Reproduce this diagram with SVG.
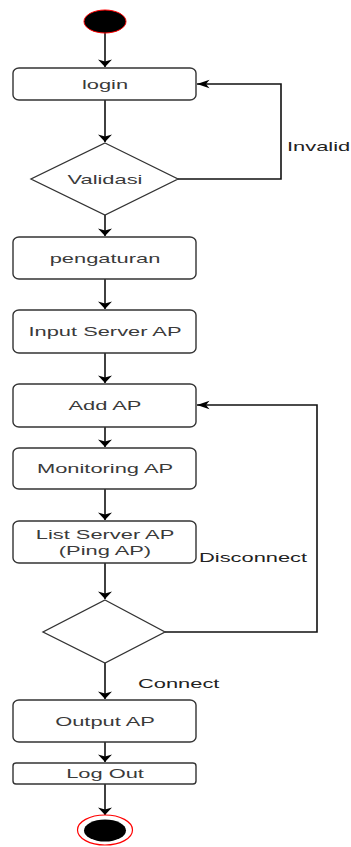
<svg xmlns="http://www.w3.org/2000/svg" width="351" height="847" viewBox="0 0 351 847">
  <style>
    .box { fill: #ffffff; stroke: #333333; stroke-width: 1.4; }
    .dec { fill: #ffffff; stroke: #333333; stroke-width: 1.3; }
    .edge { fill: none; stroke: #111111; stroke-width: 1.6; }
    .lbl { font-family: "Liberation Sans", Arial, sans-serif; font-size: 12.5px; fill: #3a3a3a; text-anchor: middle; }
    .elbl { font-family: "Liberation Sans", Arial, sans-serif; font-size: 12.5px; fill: #222222; text-anchor: start; }
  </style>
  <defs>
    <!-- vertical flow arrowhead (wide, short) -->
    <marker id="ahDown" markerUnits="userSpaceOnUse" markerWidth="10" markerHeight="16" viewBox="0 -8 8 16" refX="7.5" refY="0" orient="auto">
      <path d="M0,-7 L7.5,0 L0,7 L2,0 Z" fill="#000000"/>
    </marker>
    <!-- horizontal return arrowhead (long, narrow) -->
    <marker id="ahSide" markerUnits="userSpaceOnUse" markerWidth="14" markerHeight="10" viewBox="0 -5 13 10" refX="12.5" refY="0" orient="auto">
      <path d="M0,-4.2 L12.5,0 L0,4.2 L3.5,0 Z" fill="#000000"/>
    </marker>
  </defs>

  <g id="connectors">
    <path class="edge" d="M105,33 V67" marker-end="url(#ahDown)"/>
    <path class="edge" d="M105,100 V142" marker-end="url(#ahDown)"/>
    <path class="edge" d="M105,215 V236" marker-end="url(#ahDown)"/>
    <path class="edge" d="M105,279 V309" marker-end="url(#ahDown)"/>
    <path class="edge" d="M105,353 V383" marker-end="url(#ahDown)"/>
    <path class="edge" d="M105,427 V447" marker-end="url(#ahDown)"/>
    <path class="edge" d="M105,489 V520" marker-end="url(#ahDown)"/>
    <path class="edge" d="M105,563 V599" marker-end="url(#ahDown)"/>
    <path class="edge" d="M105,663 V699" marker-end="url(#ahDown)"/>
    <path class="edge" d="M105,742 V762" marker-end="url(#ahDown)"/>
    <path class="edge" d="M105,784 V815" marker-end="url(#ahDown)"/>
    <!-- Invalid: back to login -->
    <path class="edge" d="M178,179 H281 V84 H197" marker-end="url(#ahSide)"/>
    <!-- Disconnect: back to Add AP -->
    <path class="edge" d="M165,632 H317 V405 H197" marker-end="url(#ahSide)"/>
    <text class="elbl" transform="translate(287,150.5) scale(1.75,1)">Invalid</text>
    <text class="elbl" transform="translate(199,561.5) scale(1.75,1)">Disconnect</text>
    <text class="elbl" transform="translate(138,687.5) scale(1.75,1)">Connect</text>
  </g>

  <g id="start">
    <ellipse cx="105" cy="21.5" rx="21" ry="11.5" fill="#000000" stroke="#ff0000" stroke-width="1"/>
  </g>

  <g id="login">
    <rect class="box" x="13" y="68" width="183" height="32" rx="6" ry="5"/>
    <text class="lbl" transform="translate(105,88.5) scale(1.75,1)">login</text>
  </g>

  <g id="validasi">
    <polygon class="dec" points="105,143 178,179 105,215 31,179"/>
    <text class="lbl" transform="translate(105,183.5) scale(1.75,1)">Validasi</text>
  </g>

  <g id="pengaturan">
    <rect class="box" x="13" y="237" width="183" height="42" rx="6" ry="5"/>
    <text class="lbl" transform="translate(105,262.5) scale(1.75,1)">pengaturan</text>
  </g>

  <g id="input-server-ap">
    <rect class="box" x="13" y="310" width="183" height="43" rx="6" ry="5"/>
    <text class="lbl" transform="translate(105,336) scale(1.75,1)">Input Server AP</text>
  </g>

  <g id="add-ap">
    <rect class="box" x="13" y="384" width="183" height="43" rx="6" ry="5"/>
    <text class="lbl" transform="translate(105,410) scale(1.75,1)">Add AP</text>
  </g>

  <g id="monitoring-ap">
    <rect class="box" x="13" y="448" width="183" height="41" rx="6" ry="5"/>
    <text class="lbl" transform="translate(105,472.5) scale(1.75,1)">Monitoring AP</text>
  </g>

  <g id="list-server-ap">
    <rect class="box" x="13" y="521" width="183" height="42" rx="6" ry="5"/>
    <text class="lbl" transform="translate(105,538.5) scale(1.75,1)">List Server AP</text>
    <text class="lbl" transform="translate(105,554.5) scale(1.75,1)">(Ping AP)</text>
  </g>

  <g id="connection-check">
    <polygon class="dec" points="105,600 165,632 105,663 43,632"/>
  </g>

  <g id="output-ap">
    <rect class="box" x="13" y="700" width="183" height="42" rx="6" ry="5"/>
    <text class="lbl" transform="translate(105,725.5) scale(1.75,1)">Output AP</text>
  </g>

  <g id="log-out">
    <rect class="box" x="13" y="763" width="183" height="21" rx="3" ry="3"/>
    <text class="lbl" transform="translate(105,778) scale(1.75,1)">Log Out</text>
  </g>

  <g id="end">
    <ellipse cx="105" cy="830" rx="27.5" ry="15" fill="#ffffff" stroke="#ff0000" stroke-width="1.2"/>
    <ellipse cx="105" cy="830.5" rx="21" ry="11" fill="#000000"/>
  </g>
</svg>
